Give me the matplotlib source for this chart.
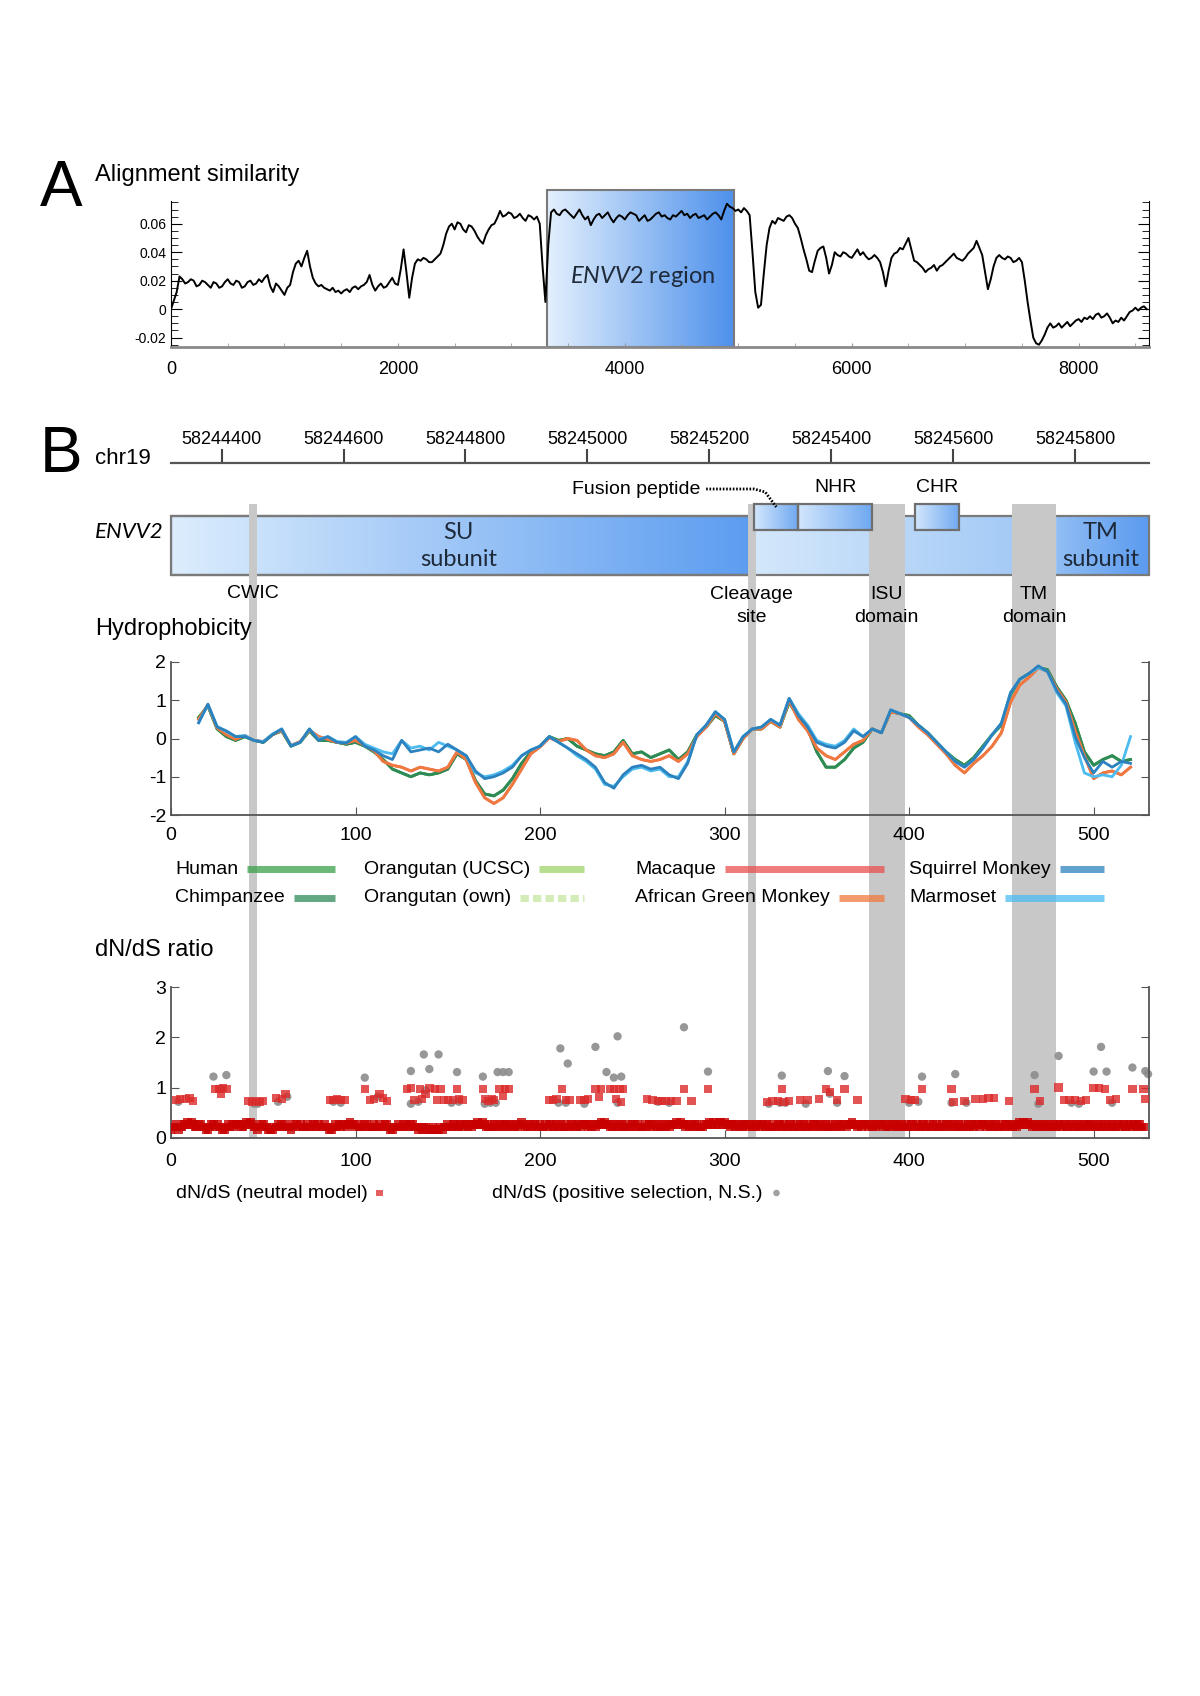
import numpy as np
import matplotlib
matplotlib.use("Agg")
import matplotlib.pyplot as plt
from matplotlib.colors import LinearSegmentedColormap
from matplotlib.patches import Rectangle
from matplotlib.ticker import FixedLocator, FuncFormatter

plt.rcParams['font.family'] = ['Liberation Sans', 'DejaVu Sans']
plt.rcParams['axes.unicode_minus'] = False
plt.rcParams['mathtext.fontset'] = 'custom'
plt.rcParams['mathtext.it'] = 'Lato:italic'
plt.rcParams['mathtext.rm'] = 'Lato'

# ---------------- data ----------------
# panel A: alignment similarity, every 25 positions from 0 to 8600
align_x = np.arange(0, 8601, 25)
align_sim = [
    0.000, 0.006, 0.012, 0.023, 0.021, 0.018, 0.019, 0.021, 0.020, 0.016,
    0.017, 0.020, 0.019, 0.017, 0.015, 0.019, 0.018, 0.015, 0.016, 0.019,
    0.021, 0.018, 0.017, 0.020, 0.019, 0.015, 0.016, 0.019, 0.020, 0.017,
    0.018, 0.021, 0.019, 0.022, 0.024, 0.016, 0.012, 0.018, 0.016, 0.013,
    0.010, 0.015, 0.017, 0.026, 0.032, 0.034, 0.030, 0.036, 0.041, 0.030,
    0.022, 0.018, 0.016, 0.017, 0.015, 0.014, 0.013, 0.015, 0.012, 0.013,
    0.011, 0.013, 0.014, 0.012, 0.015, 0.016, 0.014, 0.016, 0.017, 0.019,
    0.024, 0.017, 0.013, 0.016, 0.018, 0.015, 0.016, 0.019, 0.022, 0.018,
    0.017, 0.028, 0.042, 0.026, 0.008, 0.022, 0.032, 0.035, 0.034, 0.036,
    0.035, 0.033, 0.033, 0.035, 0.037, 0.039, 0.045, 0.053, 0.058, 0.060,
    0.056, 0.061, 0.060, 0.056, 0.054, 0.059, 0.058, 0.055, 0.051, 0.048,
    0.046, 0.052, 0.056, 0.059, 0.060, 0.064, 0.069, 0.065, 0.066, 0.068,
    0.067, 0.064, 0.065, 0.067, 0.064, 0.062, 0.066, 0.065, 0.063, 0.065,
    0.060, 0.030, 0.005, 0.045, 0.068, 0.070, 0.067, 0.066, 0.069, 0.070,
    0.068, 0.066, 0.064, 0.067, 0.070, 0.066, 0.063, 0.065, 0.059, 0.063,
    0.066, 0.067, 0.064, 0.066, 0.068, 0.064, 0.061, 0.064, 0.066, 0.065,
    0.063, 0.066, 0.068, 0.067, 0.066, 0.062, 0.064, 0.066, 0.062, 0.063,
    0.065, 0.067, 0.068, 0.065, 0.066, 0.064, 0.063, 0.066, 0.065, 0.067,
    0.069, 0.066, 0.067, 0.064, 0.066, 0.067, 0.064, 0.065, 0.066, 0.063,
    0.065, 0.067, 0.068, 0.066, 0.063, 0.069, 0.074, 0.072, 0.071, 0.069,
    0.070, 0.068, 0.071, 0.069, 0.066, 0.040, 0.012, 0.001, 0.003, 0.025,
    0.045, 0.057, 0.062, 0.060, 0.064, 0.063, 0.062, 0.065, 0.066, 0.064,
    0.060, 0.057, 0.050, 0.042, 0.035, 0.027, 0.026, 0.034, 0.041, 0.043,
    0.044, 0.036, 0.025, 0.031, 0.040, 0.038, 0.037, 0.040, 0.039, 0.037,
    0.036, 0.039, 0.042, 0.038, 0.040, 0.037, 0.035, 0.036, 0.038, 0.036,
    0.033, 0.026, 0.016, 0.027, 0.036, 0.039, 0.040, 0.043, 0.042, 0.046,
    0.050, 0.042, 0.034, 0.033, 0.031, 0.029, 0.026, 0.028, 0.029, 0.031,
    0.027, 0.030, 0.031, 0.033, 0.035, 0.037, 0.039, 0.036, 0.035, 0.034,
    0.036, 0.039, 0.041, 0.043, 0.048, 0.043, 0.038, 0.026, 0.014, 0.021,
    0.030, 0.036, 0.038, 0.036, 0.035, 0.037, 0.036, 0.033, 0.034, 0.036,
    0.033, 0.020, 0.005, -0.008, -0.020, -0.024, -0.025, -0.022, -0.018, -0.013,
    -0.010, -0.013, -0.012, -0.010, -0.013, -0.011, -0.009, -0.012, -0.010, -0.008,
    -0.007, -0.009, -0.006, -0.007, -0.005, -0.007, -0.004, -0.003, -0.006, -0.005,
    -0.003, -0.006, -0.010, -0.008, -0.009, -0.006, -0.008, -0.005, -0.002, -0.001,
    0.001, -0.001, 0.001, 0.002, 0.000,
]
envv2_region = (3310, 4960)

# chr19 coordinates
chr_range = (58244317, 58245921)
chr_ticks = [58244400, 58244600, 58244800, 58245000,
             58245200, 58245400, 58245600, 58245800]

# ENVV2 protein domains (amino acid positions)
prot_len = 530
cleavage = 313
tm_subunit_start = 480
boxes = {'fusion': (316, 340), 'NHR': (340, 380), 'CHR': (403, 427)}
band_names = ['CWIC', 'Cleavage\nsite', 'ISU\ndomain', 'TM\ndomain']
band_starts = [42, 312.5, 378, 456]
band_ends = [46.5, 316.8, 397.5, 479.5]

# hydrophobicity, every 5 residues from 15 to 520
hyd_x = np.arange(15, 521, 5)
hyd_green = [
    0.55, 0.85, 0.25, 0.05, -0.05, 0.05, -0.05, -0.10, 0.10, 0.20,
    -0.20, -0.10, 0.20, -0.05, -0.05, -0.10, -0.15, -0.10, -0.20, -0.35,
    -0.55, -0.80, -0.90, -1.00, -0.90, -0.95, -0.90, -0.80, -0.40, -0.55,
    -1.10, -1.45, -1.50, -1.35, -1.05, -0.65, -0.35, -0.20, 0.05, -0.05,
    0.00, -0.20, -0.30, -0.40, -0.45, -0.35, -0.05, -0.40, -0.35, -0.50,
    -0.40, -0.30, -0.55, -0.35, 0.10, 0.30, 0.60, 0.45, -0.40, 0.00,
    0.25, 0.25, 0.45, 0.30, 0.95, 0.55, 0.25, -0.35, -0.75, -0.75,
    -0.55, -0.25, -0.10, 0.25, 0.15, 0.70, 0.65, 0.60, 0.35, 0.15,
    -0.10, -0.35, -0.55, -0.70, -0.50, -0.20, 0.10, 0.35, 1.15, 1.55,
    1.70, 1.85, 1.80, 1.35, 1.00, 0.40, -0.35, -0.70, -0.55, -0.45,
    -0.60, -0.55,
]
hyd_red = [
    0.50, 0.88, 0.28, 0.10, -0.02, 0.08, -0.05, -0.08, 0.10, 0.22,
    -0.18, -0.08, 0.22, 0.05, -0.02, -0.10, -0.12, -0.05, -0.18, -0.32,
    -0.60, -0.70, -0.75, -0.85, -0.75, -0.80, -0.85, -0.75, -0.35, -0.55,
    -1.15, -1.55, -1.70, -1.55, -1.20, -0.80, -0.40, -0.22, 0.02, -0.08,
    0.00, -0.05, -0.30, -0.45, -0.50, -0.40, -0.10, -0.45, -0.55, -0.60,
    -0.55, -0.45, -0.60, -0.40, 0.05, 0.30, 0.65, 0.45, -0.40, 0.00,
    0.25, 0.25, 0.45, 0.30, 1.00, 0.50, 0.20, -0.25, -0.45, -0.55,
    -0.35, -0.15, -0.05, 0.25, 0.15, 0.70, 0.65, 0.55, 0.30, 0.10,
    -0.15, -0.40, -0.70, -0.90, -0.65, -0.45, -0.20, 0.15, 0.95, 1.40,
    1.60, 1.85, 1.75, 1.30, 0.95, 0.20, -0.45, -1.05, -0.90, -0.85,
    -0.95, -0.75,
]
hyd_blue = [
    0.41, 0.90, 0.30, 0.20, 0.05, 0.05, -0.05, -0.10, 0.10, 0.25,
    -0.20, -0.10, 0.25, -0.05, 0.05, -0.10, -0.12, 0.05, -0.20, -0.30,
    -0.45, -0.55, -0.05, -0.35, -0.30, -0.25, -0.35, -0.15, -0.30, -0.45,
    -0.85, -1.05, -1.00, -0.90, -0.75, -0.45, -0.30, -0.20, 0.05, -0.10,
    -0.25, -0.40, -0.55, -0.75, -1.15, -1.30, -0.95, -0.75, -0.70, -0.80,
    -0.75, -0.95, -1.05, -0.65, 0.10, 0.35, 0.70, 0.50, -0.35, 0.05,
    0.25, 0.30, 0.50, 0.35, 1.05, 0.60, 0.30, -0.10, -0.20, -0.25,
    -0.10, 0.20, 0.05, 0.25, 0.15, 0.75, 0.65, 0.55, 0.35, 0.15,
    -0.10, -0.35, -0.60, -0.75, -0.55, -0.25, 0.10, 0.40, 1.20, 1.55,
    1.70, 1.90, 1.75, 1.25, 0.90, 0.05, -0.50, -0.90, -0.60, -0.75,
    -0.60, -0.65,
]
hyd_lightblue = [
    0.42, 0.88, 0.32, 0.18, 0.05, 0.08, -0.05, -0.08, 0.12, 0.25,
    -0.18, -0.10, 0.25, -0.02, 0.05, -0.08, -0.10, 0.05, -0.15, -0.25,
    -0.35, -0.40, -0.05, -0.25, -0.20, -0.30, -0.10, -0.20, -0.30, -0.45,
    -0.90, -1.00, -0.95, -0.85, -0.70, -0.45, -0.30, -0.20, 0.05, -0.10,
    -0.25, -0.45, -0.60, -0.80, -1.20, -1.25, -1.00, -0.80, -0.75, -0.85,
    -0.80, -1.00, -1.00, -0.60, 0.10, 0.35, 0.70, 0.50, -0.35, 0.05,
    0.25, 0.30, 0.50, 0.35, 1.05, 0.65, 0.35, -0.05, -0.15, -0.20,
    -0.05, 0.25, 0.05, 0.25, 0.15, 0.75, 0.65, 0.55, 0.35, 0.15,
    -0.10, -0.35, -0.60, -0.75, -0.55, -0.25, 0.10, 0.40, 1.20, 1.55,
    1.70, 1.85, 1.75, 1.20, 0.85, -0.10, -0.90, -1.00, -0.95, -1.00,
    -0.70, 0.05,
]

species = ['Human', 'Chimpanzee', 'Orangutan (UCSC)', 'Orangutan (own)',
           'Macaque', 'African Green Monkey', 'Squirrel Monkey', 'Marmoset']
species_hyd = [hyd_green, hyd_green, hyd_green, hyd_green,
               hyd_red, hyd_red, hyd_blue, hyd_lightblue]
species_colors = ['#3aa04a', '#2f8a5a', '#9fd46a', '#c5e6a0',
                  '#e8504f', '#f07a3e', '#2c82be', '#4cbbef']
species_dashed = [False, False, False, True, False, False, False, False]
draw_order = [3, 2, 0, 1, 4, 5, 7, 6]

# dN/dS: neutral model, one digit per codon 0..527 (value = 0.07 + 0.05*digit)
neutral_band = (
    "233423344545433443322344343322343434443345454332"
    "344332223343434332344343334334434334332234343443"
    "454434333443334334334432233433443344332323322232"
    "223233433443343443434454454334343344343443343454"
    "334344334334344334343343344334344434343445454433"
    "434343343344343334344343433434344454544343434433"
    "344454544554544344343434434343434434334334434334"
    "433434343343443434343343434344344544343444343434"
    "443434344343434334434334433434343343443434343343"
    "434344344434343433434434343454545443434343434343"
    "344343344334343434434343434343433443433443434433"
)
neutral_hi_x = [3, 5, 8, 10, 12, 24, 26, 27, 28, 30, 42, 44, 46, 48, 50,
                57, 60, 62, 86, 88, 90, 92, 94, 105, 108, 110, 113, 115, 117,
                128, 130, 132, 135, 136, 138, 140, 143, 144, 146, 148, 150,
                153, 155, 156, 158, 169, 170, 172, 174, 175, 178, 180, 181,
                183, 205, 207, 209, 212, 214, 216, 222, 224, 226, 230, 232,
                233, 238, 240, 241, 243, 244, 245, 258, 261, 264, 266, 268,
                271, 274, 278, 282, 291, 323, 326, 329, 331, 332, 335, 341,
                345, 351, 355, 357, 361, 365, 372, 398, 401, 403, 407, 423,
                424, 430, 436, 440, 443, 446, 454, 468, 471, 481, 484, 487,
                490, 493, 496, 500, 503, 506, 509, 512, 521, 527, 528]
neutral_hi_y = [0.76, 0.78, 0.77, 0.79, 0.74, 0.98, 0.97, 0.88, 0.99, 0.97,
                0.74, 0.72, 0.74, 0.71, 0.73, 0.79, 0.78, 0.88, 0.76, 0.75,
                0.77, 0.75, 0.76, 0.98, 0.76, 0.78, 0.88, 0.79, 0.74, 0.98,
                0.99, 0.76, 0.98, 0.77, 0.88, 0.99, 0.98, 0.76, 0.97, 0.76,
                0.75, 0.76, 0.98, 0.77, 0.76, 0.98, 0.77, 0.74, 0.78, 0.76,
                0.97, 0.84, 0.98, 0.98, 0.76, 0.75, 0.77, 0.98, 0.76, 0.76,
                0.76, 0.75, 0.77, 0.98, 0.82, 0.98, 0.98, 0.98, 0.78, 0.97,
                0.72, 0.98, 0.78, 0.76, 0.74, 0.74, 0.73, 0.74, 0.74, 0.98,
                0.74, 0.98, 0.72, 0.73, 0.74, 0.98, 0.72, 0.73, 0.75, 0.75,
                0.78, 0.98, 0.91, 0.75, 0.98, 0.75, 0.78, 0.76, 0.75, 0.98,
                0.98, 0.72, 0.74, 0.78, 0.78, 0.79, 0.79, 0.74, 0.98, 0.74,
                1.00, 0.76, 0.75, 0.76, 0.74, 0.75, 0.99, 0.99, 0.98, 0.76,
                0.77, 0.98, 0.98, 0.78]
positive_x = [23, 27, 30, 105, 130, 137, 140, 145, 155, 169, 177, 180, 183,
              211, 215, 230, 236, 240, 242, 244, 278, 291, 331, 356, 365,
              407, 425, 468, 481, 500, 504, 507, 521, 528, 529.5,
              4, 45, 47, 58, 63, 88, 92, 112, 130, 134, 138, 152, 156, 170,
              173, 176, 210, 214, 224, 242, 264, 270, 324, 330, 333, 344,
              357, 361, 400, 405, 423, 431, 470, 488, 492, 510]
positive_y = [1.22, 0.98, 1.25, 1.20, 1.33, 1.66, 1.37, 1.66, 1.31, 1.22,
              1.31, 1.31, 1.31, 1.78, 1.48, 1.81, 1.31, 1.20, 2.02, 1.22,
              2.20, 1.32, 1.24, 1.33, 1.23, 1.22, 1.27, 1.25, 1.63, 1.32,
              1.81, 1.32, 1.40, 1.33, 1.27,
              0.72, 0.68, 0.68, 0.72, 0.82, 0.72, 0.70, 0.82, 0.68, 0.72,
              0.95, 0.70, 0.72, 0.68, 0.70, 0.70, 0.70, 0.70, 0.68, 0.70,
              0.72, 0.70, 0.68, 0.70, 0.70, 0.68, 0.88, 0.70, 0.70, 0.72,
              0.70, 0.70, 0.68, 0.70, 0.68, 0.70]

# ---------------- figure ----------------
W, H = 1200, 1696
L, R = 171, 1149
fig = plt.figure(figsize=(W / 100, H / 100), dpi=100)


def px_axes(x0, y0, x1, y1):
    return fig.add_axes([x0 / W, 1 - y1 / H, (x1 - x0) / W, (y1 - y0) / H])


def gradient(c0, c1):
    return LinearSegmentedColormap.from_list('g', [c0, c1])


grad = np.linspace(0, 1, 256).reshape(1, -1)

# ---- panel A ----
axA = px_axes(L, 190, R, 347)
ylo, yhi, ytop = -0.0266, 0.0837, 0.076
axA.imshow(grad, extent=(envv2_region[0], envv2_region[1], ylo, yhi),
           cmap=gradient('#e3f0fd', '#4d90eb'), aspect='auto', zorder=1)
axA.add_patch(Rectangle((envv2_region[0], ylo), envv2_region[1] - envv2_region[0],
                        yhi - ylo, fill=False, ec='#7a7a7a', lw=1.5, zorder=2,
                        clip_on=False))
axA.plot(align_x, align_sim, color='black', lw=1.4, zorder=3)
axA.text(sum(envv2_region) / 2 + 20, 0.023, r'$\mathit{ENVV2}$ region',
         family='Lato', fontsize=17, ha='center', va='center', color='#1e2a3a')
axA.set_xlim(0, 8620)
axA.set_ylim(ylo, yhi)
axA.spines['top'].set_visible(False)
axA.spines['left'].set_bounds(ylo, ytop)
axA.spines['right'].set_bounds(ylo, ytop)
axA.spines['bottom'].set_color('#8a8a8a')
axA.spines['bottom'].set_linewidth(2)
axA.yaxis.set_major_locator(FixedLocator([-0.02, 0, 0.02, 0.04, 0.06]))
axA.yaxis.set_minor_locator(FixedLocator(np.arange(-0.025, 0.0751, 0.005)))
axA.yaxis.set_major_formatter(FuncFormatter(lambda v, p: '0' if abs(v) < 1e-9 else f'{v:.2f}'))
axA.tick_params(axis='y', which='both', direction='in', right=True, labelsize=10)
axA.tick_params(axis='y', which='major', length=8)
axA.tick_params(axis='y', which='minor', length=5)
axA.set_xticks([0, 2000, 4000, 6000, 8000])
axA.xaxis.set_minor_locator(FixedLocator(np.arange(0, 8601, 500)))
axA.tick_params(axis='x', which='both', direction='in', length=3, color='#999999',
                labelsize=13, pad=10)

fig.text(40 / W, 1 - 189 / H, 'A', fontsize=46, va='center', ha='left')
fig.text(95 / W, 1 - 175 / H, 'Alignment similarity', fontsize=17, va='center')

# ---- panel B: chromosome coordinates ----
fig.text(40 / W, 1 - 455 / H, 'B', fontsize=46, va='center', ha='left')
fig.text(95 / W, 1 - 458 / H, 'chr19', fontsize=16, va='center')
axC = px_axes(L, 451, R, 463)
axC.set_xlim(*chr_range)
axC.patch.set_visible(False)
for s in ['top', 'left', 'right']:
    axC.spines[s].set_visible(False)
axC.spines['bottom'].set_color('#555555')
axC.spines['bottom'].set_linewidth(1.6)
axC.set_yticks([])
axC.set_xticks(chr_ticks, labels=[str(t) for t in chr_ticks])
axC.tick_params(axis='x', direction='in', length=10, width=1.5, color='#444444',
                bottom=True, top=False, labelbottom=False, labeltop=True,
                labelsize=13, pad=2)

# ---- gene diagram + shaded bands (x in residues, y in pixels) ----
axG = px_axes(L, 480, R, 1138)
bar_top, bar_bot = 516, 575
box_top, box_bot = 504, 530
axG.imshow(grad, extent=(0, cleavage, bar_bot, bar_top),
           cmap=gradient('#dcedfd', '#5d9df0'), aspect='auto', zorder=1)
axG.imshow(grad, extent=(cleavage, tm_subunit_start, bar_bot, bar_top),
           cmap=gradient('#d5e8fb', '#9cc6f5'), aspect='auto', zorder=1)
axG.imshow(grad, extent=(tm_subunit_start, prot_len, bar_bot, bar_top),
           cmap=gradient('#90bdf4', '#5a9aef'), aspect='auto', zorder=1)
axG.add_patch(Rectangle((0, bar_top), prot_len, bar_bot - bar_top, fill=False,
                        ec='#7a7a7a', lw=1.6, zorder=1.5, clip_on=False))
axG.add_patch(Rectangle((0, bar_top), cleavage, bar_bot - bar_top, fill=False,
                        ec='#7a7a7a', lw=1.6, zorder=1.5))
for b0, b1 in zip(band_starts, band_ends):
    axG.add_patch(Rectangle((b0, box_top), b1 - b0, 1138 - box_top,
                            fc='#c8c8c8', ec='none', zorder=2))
for name, (b0, b1) in boxes.items():
    axG.imshow(grad, extent=(b0, b1, box_bot, box_top),
               cmap=gradient('#d3e7fc', '#6fa8f1'), aspect='auto', zorder=3)
    axG.add_patch(Rectangle((b0, box_top), b1 - b0, box_bot - box_top, fill=False,
                            ec='#6f6f6f', lw=1.6, zorder=3.5))
axG.text(156, 546, 'SU\nsubunit', family='Lato', fontsize=17, ha='center',
         va='center', linespacing=1.3, color='#1e2a3a', zorder=5)
axG.text(504, 546, 'TM\nsubunit', family='Lato', fontsize=17, ha='center',
         va='center', linespacing=1.3, color='#1e2a3a', zorder=5)
axG.text(287, 489, 'Fusion peptide', fontsize=14, ha='right', va='center', zorder=5)
axG.plot([290, 316, 322, 328], [489, 489, 492, 507], color='black', lw=2,
         ls=(0, (0.6, 0.6)), zorder=5)
axG.text(360, 487, 'NHR', fontsize=14, ha='center', va='center', zorder=5)
axG.text(415, 487, 'CHR', fontsize=14, ha='center', va='center', zorder=5)
for name, b0, b1 in zip(band_names, band_starts, band_ends):
    y = 593 if '\n' not in name else 606
    axG.text((b0 + b1) / 2, y, name, fontsize=14, ha='center', va='center',
             linespacing=1.4, zorder=5)
axG.set_xlim(0, prot_len)
axG.set_ylim(1138, 480)
axG.axis('off')
axG.set_zorder(1)
fig.text(95 / W, 1 - 532 / H, 'ENVV2', family='Lato', style='italic', fontsize=16,
         va='center', zorder=6)
fig.text(95 / W, 1 - 629 / H, 'Hydrophobicity', fontsize=17, va='center', zorder=6)
fig.text(95 / W, 1 - 950 / H, 'dN/dS ratio', fontsize=17, va='center', zorder=6)


def frame(ax):
    ax.set_facecolor('none')
    ax.set_zorder(2)
    ax.spines['top'].set_visible(False)
    for s in ['left', 'right', 'bottom']:
        ax.spines[s].set_color('#555555')
        ax.spines[s].set_linewidth(1.3)
    ax.set_xlim(0, prot_len)
    ax.set_xticks([0, 100, 200, 300, 400, 500])
    ax.tick_params(direction='in', length=6, color='#555555', right=True,
                   labelsize=14)
    ax.tick_params(axis='x', pad=9)


# ---- hydrophobicity ----
axH = px_axes(L, 662, R, 815)
frame(axH)
for i in draw_order:
    axH.plot(hyd_x, species_hyd[i], color=species_colors[i], lw=2.0,
             ls='--' if species_dashed[i] else '-')
axH.set_ylim(-2, 2)
axH.set_yticks([-2, -1, 0, 1, 2])

# ---- dN/dS ----
axD = px_axes(L, 987, R, 1138)
frame(axD)
axD.tick_params(axis='x', pad=11)
neutral_y = [0.07 + 0.05 * int(c) for c in neutral_band]
axD.scatter(positive_x, positive_y, s=36, marker='o', color='#8c8c8c',
            edgecolors='none', alpha=0.9, zorder=2, clip_on=False)
axD.scatter(np.arange(len(neutral_y)), neutral_y, s=40, marker='s',
            color='#c80000', edgecolors='none', alpha=0.8, zorder=3)
axD.scatter(neutral_hi_x, neutral_hi_y, s=36, marker='s', color='#dc2a2a',
            edgecolors='none', alpha=0.8, zorder=3)
axD.set_ylim(0, 3)
axD.set_yticks([0, 1, 2, 3])

# ---- legends drawn in figure pixel space ----
ov = fig.add_axes([0, 0, 1, 1])
ov.set_xlim(0, W)
ov.set_ylim(H, 0)
ov.axis('off')
ov.set_zorder(5)
fig.canvas.draw()
rend = fig.canvas.get_renderer()

legend_text_x = [175, 175, 364, 364, 635, 635, 909, 909]
legend_end_x = [335, 335, 584, 584, 884, 884, 1104, 1104]
legend_y = [869, 898, 869, 898, 869, 898, 869, 898]
for i, name in enumerate(species):
    t = ov.text(legend_text_x[i], legend_y[i], name, fontsize=14, va='center')
    x1 = t.get_window_extent(rend).x1
    ov.plot([x1 + 9, legend_end_x[i]], [legend_y[i], legend_y[i]],
            color=species_colors[i], lw=5, alpha=0.75, solid_capstyle='butt',
            dash_capstyle='butt', ls=(0, (1.2, 0.6)) if species_dashed[i] else '-')

t = ov.text(176, 1193, 'dN/dS (neutral model)', fontsize=14, va='center')
x1 = t.get_window_extent(rend).x1
ov.scatter([x1 + 12], [1193], s=22, marker='s', color='#dc2a2a', alpha=0.75,
           edgecolors='none')
t = ov.text(492, 1193, 'dN/dS (positive selection, N.S.)', fontsize=14, va='center')
x1 = t.get_window_extent(rend).x1
ov.scatter([x1 + 14], [1193], s=22, marker='o', color='#a0a0a0', edgecolors='none')

fig.savefig('out.png', dpi=100)
